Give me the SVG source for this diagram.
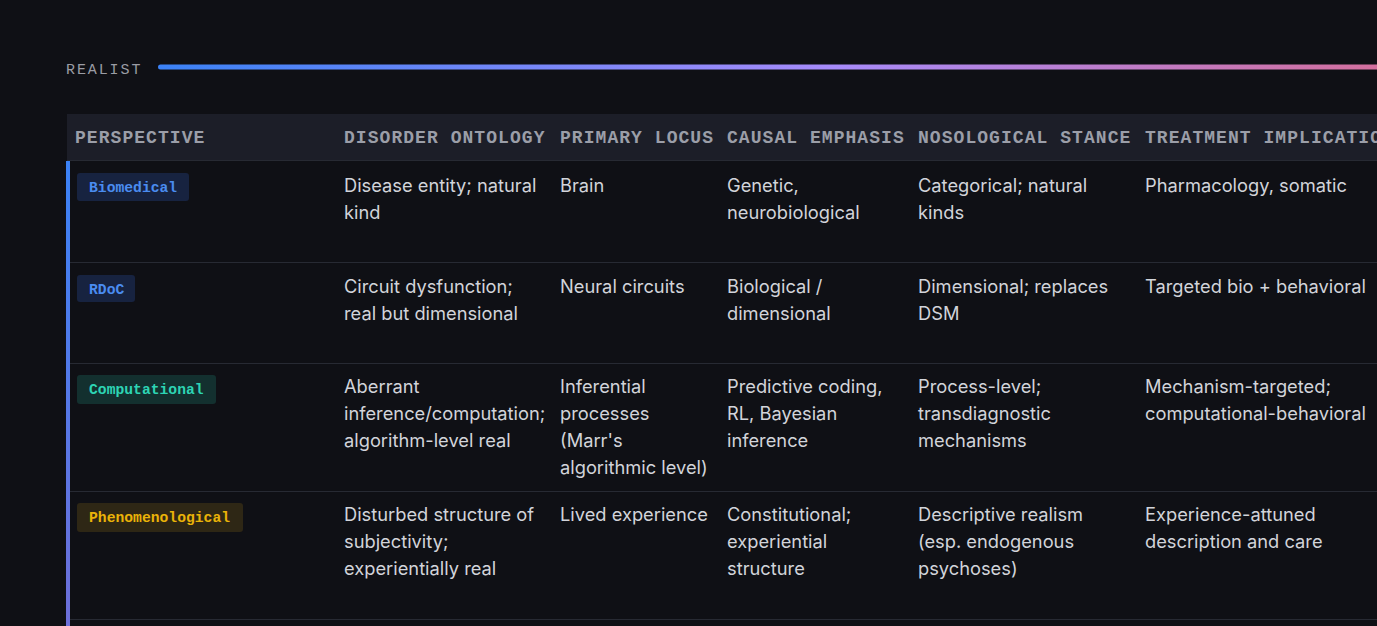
<svg xmlns="http://www.w3.org/2000/svg" width="1377" height="626" viewBox="0 0 1377 626">
<defs>
<linearGradient id="hl" x1="0" x2="1" y1="0" y2="0"><stop offset="0" stop-color="#3b82f6"/><stop offset="0.55" stop-color="#a78bfa"/><stop offset="1" stop-color="#d46f9c"/></linearGradient>
<linearGradient id="vl" x1="0" x2="0" y1="0" y2="1"><stop offset="0" stop-color="#3b82f6"/><stop offset="1" stop-color="#6d6fd8"/></linearGradient>
<style>
.h{font-family:"Liberation Mono",monospace;font-weight:bold;font-size:18px;letter-spacing:1.05px;fill:#9b9ea8}
.t{font-family:Inter,"Noto Sans",sans-serif;font-size:18.3px;fill:#d2d4da}
.b{font-family:"Liberation Mono",monospace;font-weight:bold;font-size:14.7px}
.sep{stroke:#272a33;stroke-width:1}
</style>
</defs>
<rect width="1377" height="626" fill="#0f1015"/>
<text x="66" y="74" font-family="Liberation Mono,monospace" font-size="15" letter-spacing="1.9" fill="#9a9ca4">REALIST</text>
<rect x="158" y="64.5" width="1230" height="5" rx="2.5" fill="url(#hl)"/>
<g id="header">
<rect x="67" y="114" width="1310" height="46" fill="#1c1e28"/>
<line class="sep" x1="67" y1="160.5" x2="1377" y2="160.5"/>
<text class="h" x="75" y="143">PERSPECTIVE</text>
<text class="h" x="344" y="143">DISORDER ONTOLOGY</text>
<text class="h" x="560" y="143">PRIMARY LOCUS</text>
<text class="h" x="727" y="143">CAUSAL EMPHASIS</text>
<text class="h" x="918" y="143">NOSOLOGICAL STANCE</text>
<text class="h" x="1145" y="143">TREATMENT IMPLICATIONS</text>
</g>
<rect x="66" y="161" width="4" height="465" fill="url(#vl)"/>
<g id="separators">
<line class="sep" x1="70" y1="262.5" x2="1377" y2="262.5"/>
<line class="sep" x1="70" y1="363.5" x2="1377" y2="363.5"/>
<line class="sep" x1="70" y1="491.5" x2="1377" y2="491.5"/>
<line class="sep" x1="70" y1="619.5" x2="1377" y2="619.5"/>
</g>
<g id="row-biomedical">
<rect x="77" y="173" width="112" height="28" rx="3" fill="#172340"/>
<text class="b" x="89" y="192" fill="#4a8cf0">Biomedical</text>
<text class="t" x="344" y="192">Disease entity; natural</text><text class="t" x="344" y="219">kind</text>
<text class="t" x="560" y="192">Brain</text>
<text class="t" x="727" y="192">Genetic,</text><text class="t" x="727" y="219">neurobiological</text>
<text class="t" x="918" y="192">Categorical; natural</text><text class="t" x="918" y="219">kinds</text>
<text class="t" x="1145" y="192">Pharmacology, somatic</text>
</g>
<g id="row-rdoc">
<rect x="77" y="275" width="58" height="27" rx="3" fill="#172340"/>
<text class="b" x="89" y="294" fill="#4a8cf0">RDoC</text>
<text class="t" x="344" y="293">Circuit dysfunction;</text><text class="t" x="344" y="320">real but dimensional</text>
<text class="t" x="560" y="293">Neural circuits</text>
<text class="t" x="727" y="293">Biological /</text><text class="t" x="727" y="320">dimensional</text>
<text class="t" x="918" y="293">Dimensional; replaces</text><text class="t" x="918" y="320">DSM</text>
<text class="t" x="1145" y="293">Targeted bio + behavioral</text>
</g>
<g id="row-computational">
<rect x="77" y="375" width="139" height="29" rx="3" fill="#13302f"/>
<text class="b" x="89" y="394" fill="#2dd4b4">Computational</text>
<text class="t" x="344" y="393">Aberrant</text><text class="t" x="344" y="420">inference/computation;</text><text class="t" x="344" y="447">algorithm-level real</text>
<text class="t" x="560" y="393">Inferential</text><text class="t" x="560" y="420">processes</text><text class="t" x="560" y="447">(Marr's</text><text class="t" x="560" y="474">algorithmic level)</text>
<text class="t" x="727" y="393">Predictive coding,</text><text class="t" x="727" y="420">RL, Bayesian</text><text class="t" x="727" y="447">inference</text>
<text class="t" x="918" y="393">Process-level;</text><text class="t" x="918" y="420">transdiagnostic</text><text class="t" x="918" y="447">mechanisms</text>
<text class="t" x="1145" y="393">Mechanism-targeted;</text><text class="t" x="1145" y="420">computational-behavioral</text>
</g>
<g id="row-phenomenological">
<rect x="77" y="503" width="166" height="29" rx="3" fill="#2e2715"/>
<text class="b" x="89" y="522" fill="#eab308">Phenomenological</text>
<text class="t" x="344" y="521">Disturbed structure of</text><text class="t" x="344" y="548">subjectivity;</text><text class="t" x="344" y="575">experientially real</text>
<text class="t" x="560" y="521">Lived experience</text>
<text class="t" x="727" y="521">Constitutional;</text><text class="t" x="727" y="548">experiential</text><text class="t" x="727" y="575">structure</text>
<text class="t" x="918" y="521">Descriptive realism</text><text class="t" x="918" y="548">(esp. endogenous</text><text class="t" x="918" y="575">psychoses)</text>
<text class="t" x="1145" y="521">Experience-attuned</text><text class="t" x="1145" y="548">description and care</text>
</g>
</svg>
